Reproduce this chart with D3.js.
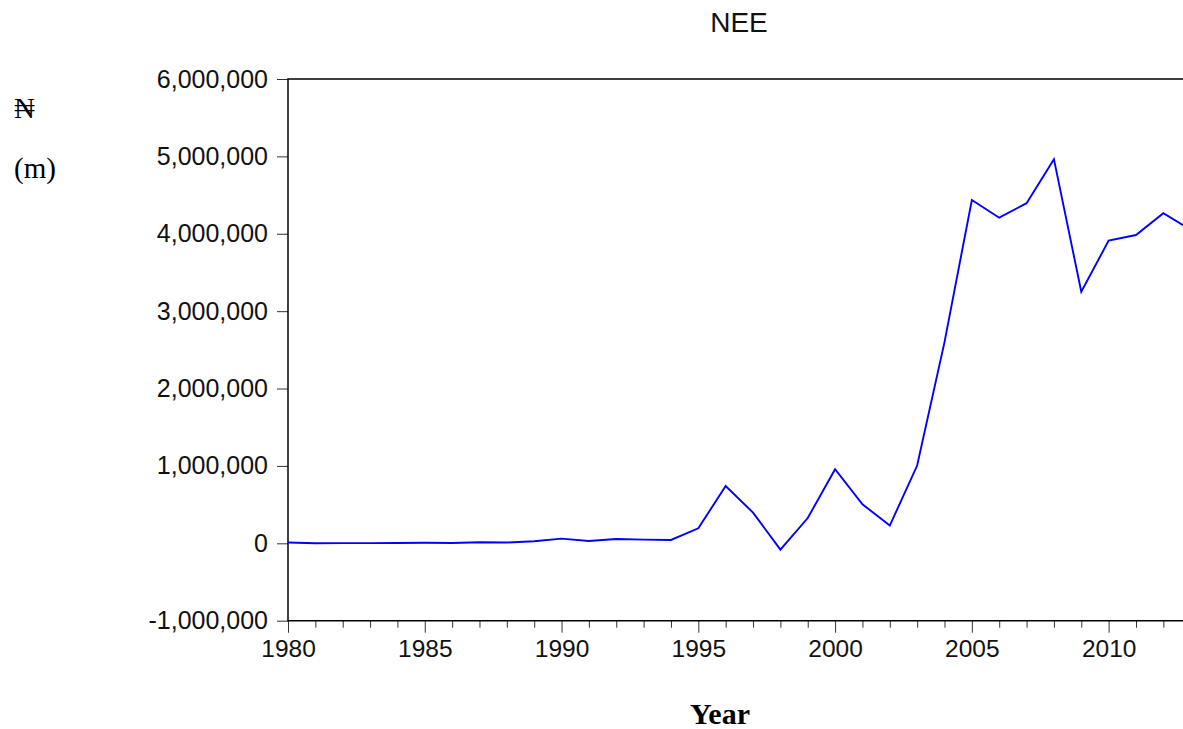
<!DOCTYPE html>
<html>
  <head>
    <meta charset="utf-8">
    <script src="https://cdn.jsdelivr.net/npm/d3@7"></script>
    <style>
      body { margin: 0; background: white; }
    </style>
  </head>
  <body>
    <svg id="chart" width="1183" height="729"></svg>
    <script>
      var years = d3.range(1980, 2014);
      var nee = [
        10000, 0, 2000, 2000, 5000, 8000, 5000, 13000, 10000, 26000,
        60000, 30000, 55000, 48000, 43000, 194000, 741000, 397000, -82000, 327000,
        957000, 505000, 229000, 1005000, 2600000, 4437000, 4208000, 4395000, 4964000, 3251000,
        3911000, 3984000, 4265000, 4053000
      ];
      var yTicks = [-1000000, 0, 1000000, 2000000, 3000000, 4000000, 5000000, 6000000];

      var plotL = 288, plotR = 1190.7, plotT = 79, plotB = 620.7;
      var svg = d3.select("#chart");

      var x = d3.scaleLinear().domain([1980, 2013]).range([plotL, plotR]);
      var y = d3.scaleLinear().domain([-1000000, 6000000]).range([plotB, plotT]);
      var fmt = d => d3.format(",")(d).replace("\u2212", "-");

      // y axis
      var yAxis = svg.append("g").attr("transform", `translate(${plotL},0)`)
        .call(d3.axisLeft(y).tickValues(yTicks).tickSize(11).tickSizeOuter(0).tickPadding(9).tickFormat(fmt));
      yAxis.select(".domain").remove();
      yAxis.selectAll(".tick line").attr("stroke", "#333").attr("stroke-width", 1);
      yAxis.selectAll("text")
        .attr("font-family", "Liberation Sans, Arial, sans-serif")
        .attr("font-size", 25)
        .attr("fill", "#111");

      // x axis, minor tick every year
      var xAxis = svg.append("g").attr("transform", `translate(0,${plotB})`)
        .call(d3.axisBottom(x).tickValues(years).tickSizeOuter(0).tickPadding(8)
          .tickFormat(d => d % 5 == 0 ? d : ""));
      xAxis.select(".domain").remove();
      xAxis.selectAll(".tick line")
        .attr("y2", d => d % 5 == 0 ? 12 : 7)
        .attr("stroke", "#333").attr("stroke-width", 1);
      xAxis.selectAll("text")
        .attr("y", 19)
        .attr("font-family", "Liberation Sans, Arial, sans-serif")
        .attr("font-size", 24.5)
        .attr("fill", "#111");

      // frame: left, top, bottom
      svg.append("path")
        .attr("d", `M${plotR},${plotT}H${plotL}V${plotB}H${plotR}`)
        .attr("fill", "none")
        .attr("stroke", "black")
        .attr("stroke-width", 1.5);

      // series
      var line = d3.line().x((d, i) => x(years[i])).y(d => y(d));
      svg.append("path")
        .datum(nee)
        .attr("d", line)
        .attr("fill", "none")
        .attr("stroke", "#0000ff")
        .attr("stroke-width", 1.9);

      // titles
      svg.append("text")
        .text("NEE")
        .attr("x", 739).attr("y", 32)
        .attr("text-anchor", "middle")
        .attr("font-family", "Liberation Sans, Arial, sans-serif")
        .attr("font-size", 28)
        .attr("fill", "#111");

      svg.append("text")
        .text("Year")
        .attr("x", 720).attr("y", 724)
        .attr("text-anchor", "middle")
        .attr("font-family", "Liberation Serif, Times New Roman, serif")
        .attr("font-weight", "bold")
        .attr("font-size", 30);

      svg.append("text")
        .text("\u20A6")
        .attr("x", 14).attr("y", 118)
        .attr("font-family", "Liberation Serif, Times New Roman, serif")
        .attr("font-size", 29);

      svg.append("text")
        .text("(m)")
        .attr("x", 14).attr("y", 178)
        .attr("font-family", "Liberation Serif, Times New Roman, serif")
        .attr("font-size", 29);
    </script>
  </body>
</html>
